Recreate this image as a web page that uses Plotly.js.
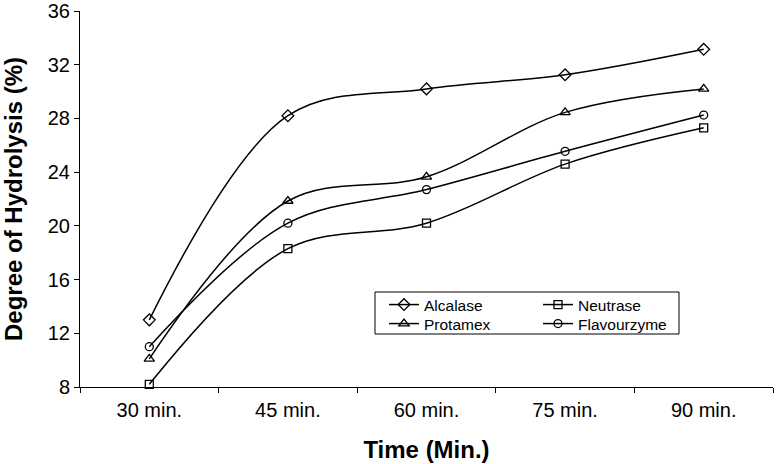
<!DOCTYPE html>
<html>
<head>
<meta charset="utf-8">
<script src="https://cdn.plot.ly/plotly-3.0.1.min.js"></script>
<style>html,body{margin:0;padding:0;background:#fff;}#chart{width:776px;height:464px;}</style>
</head>
<body>
<div id="chart"></div>
<script>
const categories = ["30 min.", "45 min.", "60 min.", "75 min.", "90 min."];
const alcalase = [13.0, 28.2, 30.2, 31.25, 33.15];
const neutrase = [8.2, 18.3, 20.2, 24.6, 27.3];
const protamex = [10.1, 21.85, 23.65, 28.45, 30.2];
const flavourzyme = [11.0, 20.2, 22.7, 25.55, 28.25];
const yTicks = [8, 12, 16, 20, 24, 28, 32, 36];

const seriesNames = ["Alcalase", "Neutrase", "Protamex", "Flavourzyme"];
const seriesData = [alcalase, neutrase, protamex, flavourzyme];
const symbols = ["diamond-open", "square-open", "triangle-up-open", "circle-open"];
const sizes = [9, 8, 9, 8];
const legendIds = ["legend", "legend2", "legend3", "legend4"];

const traces = seriesNames.map((name, i) => ({
  type: "scatter",
  mode: "lines+markers",
  name: name,
  legend: legendIds[i],
  x: categories,
  y: seriesData[i],
  line: {color: "#000", width: 1.5, shape: "spline", smoothing: 1},
  marker: {symbol: symbols[i], size: sizes[i], color: "#000", line: {color: "#000", width: 1.3}},
  cliponaxis: false
}));

const font = "Liberation Sans, Arial, sans-serif";
// plot area: x 80..773, y 11..387
const px = v => (v - 80) / 693;
const py = v => (387 - v) / 376;
function leg(xpx, ypx) {
  return {
    x: px(xpx), y: py(ypx), xanchor: "left", yanchor: "middle",
    bgcolor: "rgba(0,0,0,0)", borderwidth: 0,
    font: {family: font, size: 15.5, color: "#000"},
    itemwidth: 30
  };
}

const layout = {
  width: 776, height: 464,
  margin: {l: 80, r: 3, t: 11, b: 77},
  paper_bgcolor: "#fff", plot_bgcolor: "#fff",
  font: {family: font, color: "#000", size: 17},
  showlegend: true,
  legend: leg(384, 305),
  legend2: leg(538, 305),
  legend3: leg(384, 324),
  legend4: leg(538, 324),
  shapes: [{
    type: "rect", xref: "paper", yref: "paper",
    x0: px(375), x1: px(679), y0: py(334), y1: py(292),
    line: {color: "#000", width: 1}, fillcolor: "rgba(0,0,0,0)", layer: "above"
  }],
  xaxis: {
    type: "category",
    range: [-0.5, 4.5],
    tickson: "boundaries",
    ticks: "outside", ticklen: 5, tickcolor: "#000", tickwidth: 1,
    ticklabelstandoff: 5,
    showline: true, linecolor: "#000", linewidth: 1,
    showgrid: false, zeroline: false,
    tickfont: {family: font, size: 20, color: "#000"},
    title: {text: "Time (Min.)", font: {family: font, size: 24, color: "#000", weight: "bold"}, standoff: 21}
  },
  yaxis: {
    range: [8, 36],
    tickvals: yTicks,
    ticktext: yTicks.map(String),
    ticks: "outside", ticklen: 5, tickcolor: "#000", tickwidth: 1,
    showline: true, linecolor: "#000", linewidth: 1,
    showgrid: false, zeroline: false,
    tickfont: {family: font, size: 20, color: "#000"},
    title: {text: "Degree of Hydrolysis (%)", font: {family: font, size: 24, color: "#000", weight: "bold"}, standoff: 18}
  }
};

Plotly.newPlot("chart", traces, layout, {displayModeBar: false, staticPlot: true});
</script>
</body>
</html>
